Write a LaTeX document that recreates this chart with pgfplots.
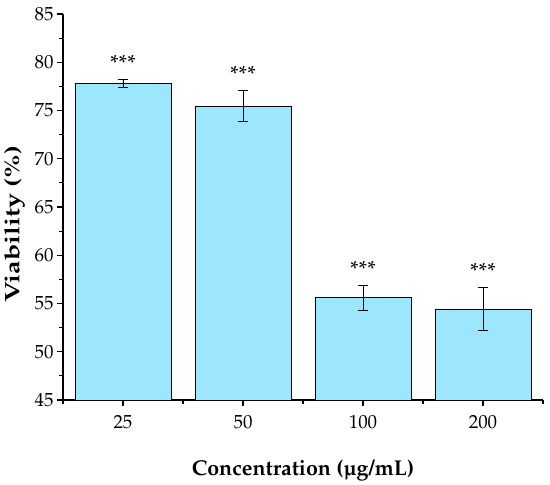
\documentclass[border=0pt]{standalone}
\usepackage[T1]{fontenc}
\usepackage{mathpazo}
\usepackage{textcomp}
\usepackage{graphicx}
\usepackage{pgfplots}
\pgfplotsset{compat=1.18}
\definecolor{barcyan}{RGB}{156,230,254}
\begin{document}
\begin{tikzpicture}[font=\fontsize{19}{22}\selectfont]
\begin{axis}[
  scale only axis,
  width=480bp, height=386bp,
  xmin=-0.5, xmax=3.5,
  ymin=45, ymax=85,
  axis x line*=bottom, axis y line*=left,
  axis line style={line width=1.1pt},
  xtick={0,1,2,3},
  xticklabels={25,50,100,200},
  minor xtick={-0.5,0.5,1.5,2.5,3.5},
  ytick={45,50,...,85},
  minor ytick={47.5,52.5,...,82.5},
  tick align=outside,
  major tick length=6bp, minor tick length=4bp,
  tick style={line width=1.1pt, black},
  xticklabel style={yshift=-6bp},
  xlabel={\fontsize{21.5}{25}\selectfont\bfseries Concentration (\textmu g/mL)},
  ylabel={\scalebox{1.28}[1]{\fontsize{21}{25}\selectfont\bfseries Viability (\%)}},
  xlabel style={yshift=-24bp},
  ylabel style={at={(ticklabel cs:0.456)}, yshift=3bp},
  /pgf/number format/assume math mode=true,
]
\addplot[ybar, bar width=96bp, bar shift=0pt, fill=barcyan, draw=black, line width=0.6pt,
  error bars/.cd, y dir=both, y explicit,
  error bar style={line width=0.7pt, black},
  error mark options={rotate=90, mark size=5bp, line width=0.7pt, black}]
  coordinates {
    (0,77.8) +- (0,0.38)
    (1,75.47) +- (0,1.58)
    (2,55.6) +- (0,1.28)
    (3,54.4) +- (0,2.23)
  };
\addplot[draw=none, mark=none,
  nodes near coords={***}, nodes near coords align={center},
  every node near coord/.append style={anchor=center, font=\fontsize{22}{26}\selectfont}]
  coordinates {(0,79.9) (1,78.8) (2,58.6) (3,58.4)};
\end{axis}
\path[use as bounding box] (current axis.south west) ++(-63bp,-80bp) rectangle ++(550bp,480bp);
\end{tikzpicture}
\end{document}
